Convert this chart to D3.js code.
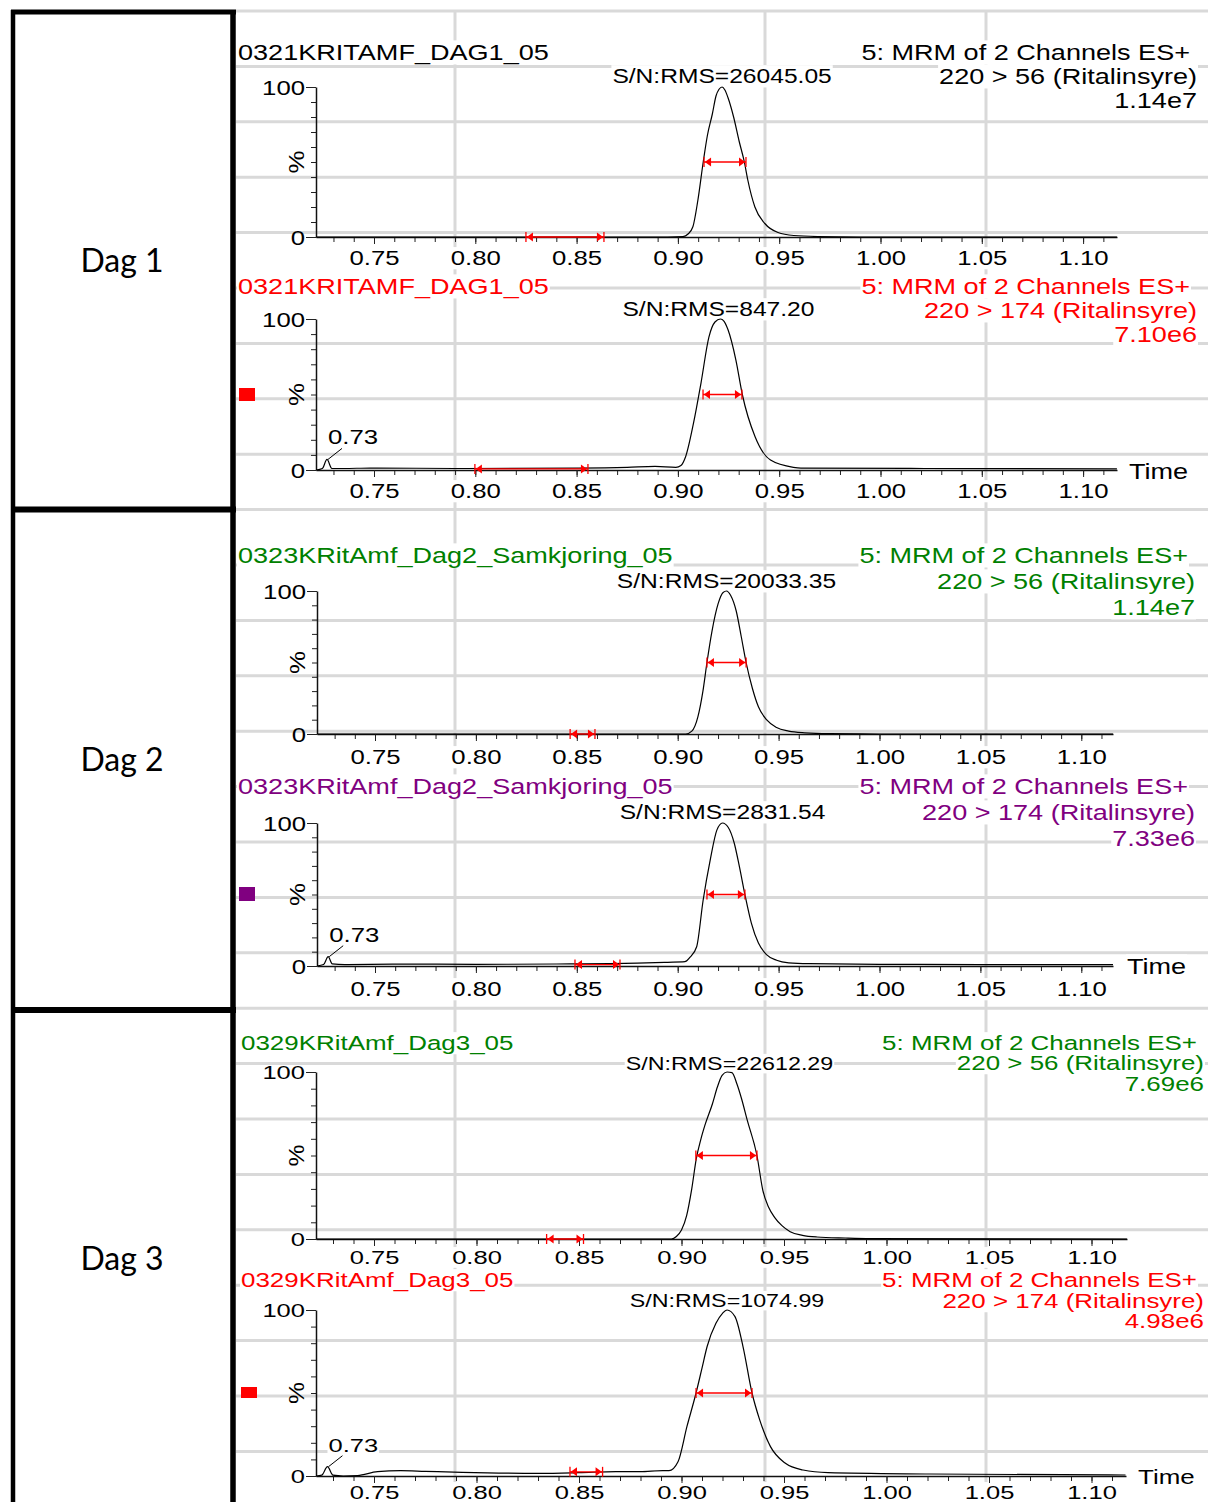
<!DOCTYPE html>
<html>
<head>
<meta charset="utf-8">
<script src="https://cdn.jsdelivr.net/npm/d3@7"></script>
<style>
  html, body { margin: 0; padding: 0; background: #fff; }
  svg { display: block; }
</style>
</head>
<body>
<svg id="chart" width="1208" height="1502"></svg>
<script>
// ---------- values ----------
const dayLabels = ["Dag 1", "Dag 2", "Dag 3"];

const sampleNames = [
  "0321KRITAMF_DAG1_05", "0321KRITAMF_DAG1_05",
  "0323KRitAmf_Dag2_Samkjoring_05", "0323KRitAmf_Dag2_Samkjoring_05",
  "0329KRitAmf_Dag3_05", "0329KRitAmf_Dag3_05"
];
const functionLabels = [
  "5: MRM of 2 Channels ES+", "5: MRM of 2 Channels ES+", "5: MRM of 2 Channels ES+",
  "5: MRM of 2 Channels ES+", "5: MRM of 2 Channels ES+", "5: MRM of 2 Channels ES+"
];
const transitions = [
  "220 > 56 (Ritalinsyre)", "220 > 174 (Ritalinsyre)",
  "220 > 56 (Ritalinsyre)", "220 > 174 (Ritalinsyre)",
  "220 > 56 (Ritalinsyre)", "220 > 174 (Ritalinsyre)"
];
const intensities = ["1.14e7", "7.10e6", "1.14e7", "7.33e6", "7.69e6", "4.98e6"];
const snValues = ["26045.05", "847.20", "20033.35", "2831.54", "22612.29", "1074.99"];
const headerColors = ["#000000", "#ff0000", "#008000", "#800080", "#008000", "#ff0000"];
const channelMarkers = [null, "#ff0000", null, "#800080", null, "#ff0000"];

const timeTicks = [0.75, 0.80, 0.85, 0.90, 0.95, 1.00, 1.05, 1.10];
const percentTicks = [0, 100];

// retention time (min) vs. relative intensity (%)
const trace1 = [[0.7214,0],[0.80,0],[0.85,0],[0.895,0],[0.9025,0.3],[0.905,2],[0.9074,6.8],
  [0.9098,24],[0.9125,50],[0.9146,68],[0.917,82],[0.9188,94],[0.9203,98.5],[0.9218,100],
  [0.9232,98],[0.9247,93],[0.9275,80],[0.9302,64],[0.9328,50],[0.9345,38],[0.938,20],
  [0.9429,9],[0.9494,3],[0.9572,1],[0.969,0.3],[0.99,0],[1.1167,0]];
const trace2 = [[0.7214,0],[0.7245,1],[0.7268,7],[0.7292,1],[0.735,1],[0.748,1.3],[0.7935,1],
  [0.8507,1.3],[0.875,1.8],[0.8887,2.4],[0.899,1.8],[0.9015,3],[0.9038,8.8],[0.9077,31],
  [0.9114,57.6],[0.9153,88],[0.9183,98],[0.921,100],[0.9228,98.5],[0.9247,93],[0.9286,73],
  [0.9318,50],[0.9381,22],[0.9457,6.6],[0.957,1.8],[0.9607,1.3],[1.0217,1],[1.1167,0.8]];
const trace3 = [[0.7213,0],[0.80,0],[0.85,0],[0.904,0],[0.907,2],[0.910,12],[0.9125,30],
  [0.9145,50],[0.917,72],[0.920,91],[0.9225,99],[0.9242,100],[0.9262,97],[0.929,86],
  [0.9315,68],[0.9339,50],[0.937,32],[0.940,19],[0.944,10],[0.949,4.5],[0.955,2],
  [0.963,0.8],[0.975,0.2],[1.0,0],[1.1157,0]];
const trace4 = [[0.7213,0],[0.7245,1],[0.7268,6.5],[0.7288,1.5],[0.735,1],[0.76,1.3],[0.80,1.2],
  [0.84,1.4],[0.88,2],[0.895,2.6],[0.9036,3],[0.906,6],[0.9094,13.5],[0.9126,46],[0.9161,74],
  [0.9194,95],[0.9222,100],[0.925,97],[0.928,86],[0.9305,70],[0.9333,50],[0.9365,30],
  [0.940,16],[0.944,8],[0.949,4],[0.955,2.2],[0.965,1.6],[1.0,1.2],[1.05,1.0],[1.1157,0.9]];
const trace5 = [[0.7217,0],[0.80,0],[0.8951,0],[0.8975,1.5],[0.900,5.4],[0.9025,14],
  [0.905,30],[0.9072,48],[0.9095,60],[0.9114,68],[0.9151,81],[0.9175,91],[0.9198,98],
  [0.9222,100],[0.9246,99.6],[0.927,93],[0.9293,84],[0.9321,71],[0.9368,50],[0.9397,29],
  [0.9425,19],[0.9454,13],[0.949,8],[0.953,4.4],[0.959,2.2],[0.966,1.2],[0.98,0.6],
  [0.992,0.3],[1.1173,0]];
const trace6 = [[0.7217,0],[0.7245,0.5],[0.7273,5.6],[0.730,0.5],[0.735,0],[0.742,0.3],
  [0.7517,2.6],[0.763,3.2],[0.775,2.8],[0.793,2.2],[0.8306,1.6],[0.850,2],[0.868,2.6],
  [0.8798,2.6],[0.8908,3.2],[0.8939,3.2],[0.8983,8.6],[0.9027,30],[0.9071,50],[0.910,65],
  [0.9125,78],[0.9168,92],[0.920,98],[0.9222,100],[0.9261,96],[0.930,78],[0.9344,50],
  [0.9381,34],[0.9434,17.7],[0.9505,7.8],[0.9593,3.6],[0.9715,2],[1.0212,1.2],[1.1166,0.6]];
const traces = [trace1, trace2, trace3, trace4, trace5, trace6];

// apex of each main peak (where the S/N label sits)
const peakApex = [0.9218, 0.920, 0.9242, 0.9222, 0.9234, 0.9222];
// peak width at half height
const fwhmRanges = [[0.9129,0.9336],[0.9124,0.9316],[0.9145,0.9339],[0.9145,0.9333],[0.9070,0.9368],[0.9071,0.9344]];
// noise window used for the S/N calculation, and its level (%)
const noiseRanges = [[0.825,0.8635],[0.7998,0.8556],[0.8467,0.859],[0.8491,0.8714],[0.8342,0.8522],[0.8456,0.8615]];
const noiseLevels = [0, 0.7, 0, 1, 0, 2.5];
// small labelled peak at the start of the 220 > 174 traces
const smallPeaks = [null, [0.7268, 7, "0.73"], null, [0.7268, 6.5, "0.73"], null, [0.7273, 5.6, "0.73"]];

// ---------- layout ----------
const panelLayout = [
  {x0:316,x1:1117,x075:374,ppu:2026,y0:237,y100:87, fs:22,sx:1.23,snFs:20,tfs:19.5,tsx:1.32,tdy:21,
   titleX:238,titleY:60,hdrR:1197,hdrY:[60,84,108],snY:83,time:null,marker:null},
  {x0:316,x1:1117,x075:374,ppu:2026,y0:470,y100:319,fs:22,sx:1.23,snFs:20,tfs:19.5,tsx:1.32,tdy:21,
   titleX:238,titleY:294,hdrR:1197,hdrY:[294,318,342],snY:316,time:[1129,479],marker:[239,388,16,13]},
  {x0:317,x1:1113,x075:375,ppu:2018,y0:734,y100:591,fs:22,sx:1.23,snFs:20,tfs:19.5,tsx:1.32,tdy:23,
   titleX:238,titleY:563,hdrR:1195,hdrY:[563,589,615],snY:588,time:null,marker:null},
  {x0:317,x1:1113,x075:375,ppu:2018,y0:966,y100:823,fs:22,sx:1.23,snFs:20,tfs:19.5,tsx:1.32,tdy:23,
   titleX:238,titleY:794,hdrR:1195,hdrY:[794,820,846],snY:819,time:[1127,974],marker:[239,887,16,14]},
  {x0:316,x1:1127,x075:374,ppu:2050,y0:1239,y100:1072,fs:19.5,sx:1.33,snFs:17.5,tfs:18.5,tsx:1.38,tdy:18,
   titleX:241,titleY:1050,hdrR:1204,hdrY:[1050,1070,1091],snY:1070,time:null,marker:null},
  {x0:316,x1:1126,x075:374,ppu:2050,y0:1476,y100:1310,fs:19.5,sx:1.33,snFs:17.5,tfs:18.5,tsx:1.38,tdy:16,
   titleX:241,titleY:1287,hdrR:1204,hdrY:[1287,1308,1328],snY:1307,time:[1138,1484],marker:[241,1387,16,11]}
];
const dayLabelY = [272, 771, 1270];

const FONT = "'Liberation Sans', Arial, sans-serif";
const GRID = "#d9d9d9";

const svg = d3.select("#chart");
svg.append("rect").attr("width", 1208).attr("height", 1502).attr("fill", "#fff");

// page grid behind the chromatograms
const gridLayer = svg.append("g");
const rowYs = d3.range(27).map(k => 11 + 55.4 * k);
gridLayer.selectAll("line.h").data(rowYs).join("line")
  .attr("x1", 236).attr("x2", 1208).attr("y1", d => d).attr("y2", d => d)
  .attr("stroke", GRID).attr("stroke-width", 3);
gridLayer.selectAll("line.v").data([455, 765, 986]).join("line")
  .attr("x1", d => d).attr("x2", d => d).attr("y1", 11).attr("y2", 1502)
  .attr("stroke", GRID).attr("stroke-width", 3);

const boxLayer = svg.append("g");
const plotLayer = svg.append("g").style("font-family", FONT);

function stretchedText(parent, x, y, str, size, sx, anchor, fill) {
  return parent.append("text")
    .attr("class", "boxed")
    .attr("transform", `translate(${x},${y}) scale(${sx},1)`)
    .attr("text-anchor", anchor || "start")
    .attr("font-size", size)
    .attr("fill", fill || "#000")
    .text(str);
}

function drawRange(g, x, y, range, pct) {
  const xa = x(range[0]), xb = x(range[1]), yy = y(pct);
  const red = "#ff0000";
  g.append("line").attr("x1", xa).attr("x2", xb).attr("y1", yy).attr("y2", yy)
    .attr("stroke", red).attr("stroke-width", 1.3);
  [[xa, 1], [xb, -1]].forEach(([xe, dir]) => {
    g.append("line").attr("x1", xe).attr("x2", xe).attr("y1", yy - 5).attr("y2", yy + 5)
      .attr("stroke", red).attr("stroke-width", 1.3);
    g.append("path")
      .attr("d", `M${xe + dir * 0.8},${yy} L${xe + dir * 7},${yy - 4.5} L${xe + dir * 7},${yy + 4.5} Z`)
      .attr("fill", red);
  });
}

panelLayout.forEach((L, i) => {
  const g = plotLayer.append("g");
  const base = d3.scaleLinear().domain([0.75, 1.10]).range([L.x075, L.x075 + 0.35 * L.ppu]);
  const x = d3.scaleLinear().domain([base.invert(L.x0), base.invert(L.x1)]).range([L.x0, L.x1]);
  const y = d3.scaleLinear().domain([0, 100]).range([L.y0, L.y100]);
  const minorTicks = d3.range(73, 112).map(v => v / 100).filter(v => v >= x.domain()[0] && v <= x.domain()[1]);

  // x axis: minor then major ticks
  g.append("g").attr("transform", `translate(0,${L.y0})`)
    .call(d3.axisBottom(x).tickValues(minorTicks).tickSize(5).tickFormat(""))
    .call(a => a.select(".domain").remove())
    .call(a => a.selectAll("line").attr("stroke", "#222").attr("stroke-width", 1));
  g.append("g").attr("transform", `translate(0,${L.y0})`)
    .call(d3.axisBottom(x).tickValues(timeTicks).tickSize(7).tickSizeOuter(0).tickFormat(d3.format(".2f")))
    .call(a => a.select(".domain").attr("stroke", "#111").attr("stroke-width", 1.5))
    .call(a => a.selectAll("line").attr("stroke", "#222").attr("stroke-width", 1))
    .call(a => a.selectAll("text")
      .attr("class", "boxed")
      .attr("y", L.tdy).attr("dy", "0.36em")
      .attr("transform", `scale(${L.tsx},1)`)
      .attr("font-family", FONT).attr("font-size", L.tfs).attr("fill", "#000"));

  // y axis
  g.append("g").attr("transform", `translate(${L.x0},0)`)
    .call(d3.axisLeft(y).tickValues(d3.range(10, 100, 10)).tickSize(5).tickFormat(""))
    .call(a => a.select(".domain").remove())
    .call(a => a.selectAll("line").attr("stroke", "#222").attr("stroke-width", 1));
  g.append("g").attr("transform", `translate(${L.x0},0)`)
    .call(d3.axisLeft(y).tickValues(percentTicks).tickSize(10).tickSizeOuter(0).tickPadding(1))
    .call(a => a.select(".domain").attr("stroke", "#111").attr("stroke-width", 1.5))
    .call(a => a.selectAll("line").attr("stroke", "#222").attr("stroke-width", 1))
    .call(a => a.selectAll("text")
      .attr("x", -11 / L.tsx).attr("dy", "0.36em")
      .attr("transform", `scale(${L.tsx},1)`)
      .attr("font-family", FONT).attr("font-size", L.tfs).attr("fill", "#000"));
  g.append("text")
    .attr("transform", `translate(${L.x0 - 12},${y(50)}) rotate(-90) scale(1.15,1)`)
    .attr("text-anchor", "middle").attr("font-size", L.tfs + 3).attr("fill", "#000")
    .text("%");

  // trace
  g.append("path").datum(traces[i])
    .attr("d", d3.line().x(d => x(d[0])).y(d => y(d[1])).curve(d3.curveMonotoneX))
    .attr("fill", "none").attr("stroke", "#000").attr("stroke-width", 1.2);

  // integration markers
  drawRange(g, x, y, fwhmRanges[i], 50);
  drawRange(g, x, y, noiseRanges[i], noiseLevels[i]);

  // labelled minor peak
  const sp = smallPeaks[i];
  if (sp) {
    const px = x(sp[0]), py = y(sp[1]);
    g.append("line").attr("x1", px + 1).attr("y1", py).attr("x2", px + 15).attr("y2", py - 11)
      .attr("stroke", "#000").attr("stroke-width", 1);
    stretchedText(g, px + 1, py - 15, sp[2], L.tfs, L.tsx, "start", "#000");
  }

  // header text
  const col = headerColors[i];
  stretchedText(g, L.titleX, L.titleY, sampleNames[i], L.fs, L.sx, "start", col);
  stretchedText(g, L.hdrR - 7, L.hdrY[0], functionLabels[i], L.fs, L.sx, "end", col);
  stretchedText(g, L.hdrR, L.hdrY[1], transitions[i], L.fs, L.sx, "end", col);
  stretchedText(g, L.hdrR, L.hdrY[2], intensities[i], L.fs, L.sx, "end", col);
  stretchedText(g, x(peakApex[i]), L.snY, "S/N:RMS=" + snValues[i], L.snFs, L.sx, "middle", "#000");
  if (L.time) stretchedText(g, L.time[0], L.time[1], "Time", L.fs, L.sx, "start", "#000");

  if (channelMarkers[i]) {
    const m = L.marker;
    g.append("rect").attr("x", m[0]).attr("y", m[1]).attr("width", m[2]).attr("height", m[3])
      .attr("fill", channelMarkers[i]);
  }
});

// white backing behind every text block, covering the page grid
const svgRect = svg.node().getBoundingClientRect();
plotLayer.selectAll("text.boxed").each(function () {
  const r = this.getBoundingClientRect();
  boxLayer.append("rect")
    .attr("x", r.left - svgRect.left - 1).attr("y", r.top - svgRect.top)
    .attr("width", r.width + 2).attr("height", r.height)
    .attr("fill", "#fff");
});

// day column with heavy borders
const dayCol = svg.append("g");
[[13, 10, 13, 1502], [233, 10, 233, 1502]].forEach(([xa, ya, xb, yb], k) => {
  dayCol.append("line").attr("x1", xa).attr("y1", ya).attr("x2", xb).attr("y2", yb)
    .attr("stroke", "#000").attr("stroke-width", k === 0 ? 4.5 : 5.5);
});
[12, 509.5, 1010].forEach(yy => {
  dayCol.append("line").attr("x1", 11).attr("x2", 236).attr("y1", yy).attr("y2", yy)
    .attr("stroke", "#000").attr("stroke-width", yy === 12 ? 5 : 6);
});
dayCol.selectAll("text.day").data(dayLabels).join("text")
  .attr("x", 122).attr("y", (d, k) => dayLabelY[k])
  .attr("text-anchor", "middle")
  .attr("font-family", "Lato, 'Open Sans', sans-serif")
  .attr("font-size", 32).attr("fill", "#000")
  .text(d => d);
</script>
</body>
</html>
